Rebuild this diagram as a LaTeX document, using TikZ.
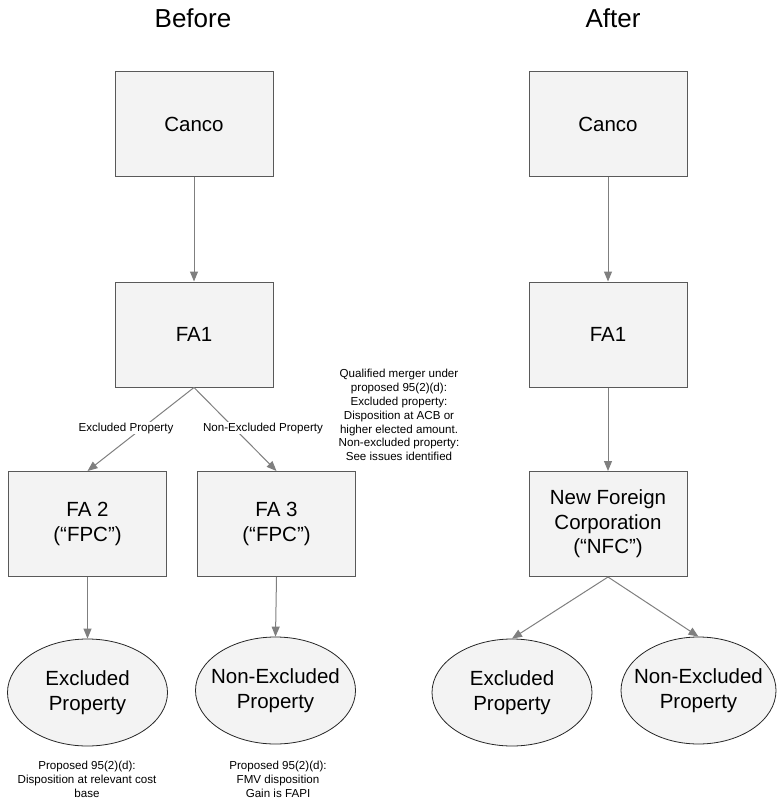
\documentclass[tikz,border=0pt]{standalone}
\usepackage{fontspec}
\setmainfont{Liberation Sans}
\usetikzlibrary{arrows.meta,shapes.geometric}
\definecolor{boxfill}{HTML}{F3F3F3}
\definecolor{boxline}{HTML}{595959}
\definecolor{arrowgray}{HTML}{7F7F7F}
\tikzset{
  entity/.style={draw=boxline, fill=boxfill, line width=1pt, rectangle,
    minimum width=158pt, minimum height=105pt, inner sep=2pt, align=center,
    font=\fontsize{20.5}{24.5}\selectfont},
  asset/.style={draw=black!85, fill=boxfill, line width=0.8pt, ellipse,
    minimum width=160pt, minimum height=107pt, inner xsep=-16pt, inner ysep=0pt,
    align=center, font=\fontsize{20.5}{24.5}\selectfont},
  heading/.style={font=\fontsize{26}{30}\selectfont},
  smalltext/.style={align=center, inner sep=1pt, font=\fontsize{11.6}{13.9}\selectfont},
  flow/.style={draw=arrowgray, line width=1pt,
    -{Triangle[length=10pt,width=8pt]}}
}
\begin{document}
\begin{tikzpicture}[x=1pt,y=-1pt]
\useasboundingbox (0,0) rectangle (776,802);

% column titles
\node[heading] (tb) at (193,18) {Before};
\node[heading] (ta) at (613,18) {After};

% before the merger
\node[entity] (canB) at (194,124.5) {Canco};
\node[entity] (faB)  at (194,334.5) {FA1};
\node[entity] (fa2)  at (87.5,524) {FA 2\\(“FPC”)};
\node[entity] (fa3)  at (276.5,524) {FA 3\\(“FPC”)};
\node[asset] (exB)  at (87.5,692.5) {Excluded\\Property};
\node[asset] (nexB) at (275.5,690.5) {Non-Excluded\\Property};

\draw[flow] (canB.south) -- (faB.north);
\draw[flow] (faB.south) -- (fa2.north);
\draw[flow] (faB.south) -- (fa3.north);
\draw[flow] (fa2.south) -- (exB.north);
\draw[flow] (fa3.south) -- (nexB.north);

\node[smalltext, fill=white] (lex)  at (126,428) {Excluded Property};
\node[smalltext, fill=white] (lnex) at (263,428) {Non-Excluded Property};

\node[smalltext] (note) at (399,415) {Qualified merger under\\proposed 95(2)(d):\\Excluded property:\\Disposition at ACB or\\higher elected amount.\\Non-excluded property:\\See issues identified};

\node[smalltext] (nex) at (87,779) {Proposed 95(2)(d):\\Disposition at relevant cost\\base};
\node[smalltext] (nnex) at (278,779) {Proposed 95(2)(d):\\FMV disposition\\Gain is FAPI};

% after the merger
\node[entity] (canA) at (608,124.5) {Canco};
\node[entity] (faA)  at (608,334.5) {FA1};
\node[entity] (nfc)  at (608,524) {New Foreign\\Corporation\\(“NFC”)};
\node[asset] (exA)  at (512,692.5) {Excluded\\Property};
\node[asset, minimum width=155pt] (nexA) at (698.5,690.5) {Non-Excluded\\Property};

\draw[flow] (canA.south) -- (faA.north);
\draw[flow] (faA.south) -- (nfc.north);
\draw[flow] (nfc.south) -- (exA.north);
\draw[flow] (nfc.south) -- (nexA.north);
\end{tikzpicture}
\end{document}
